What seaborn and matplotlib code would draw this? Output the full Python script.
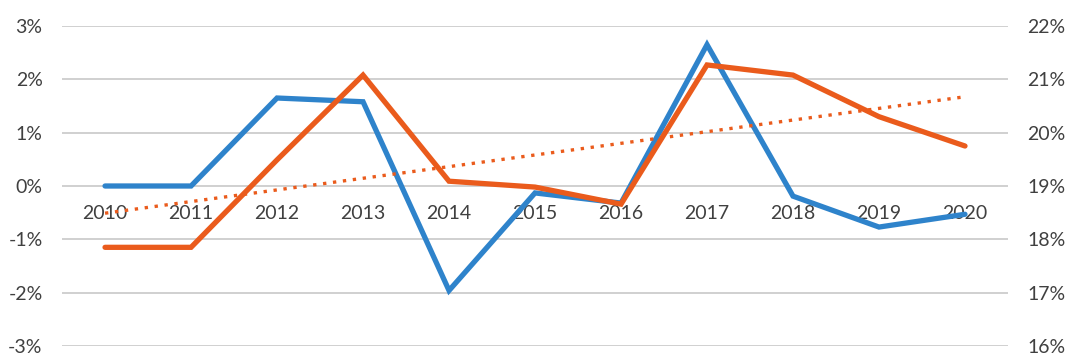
import seaborn as sns
import matplotlib.pyplot as plt
from matplotlib.ticker import FuncFormatter
import pandas as pd

years = [2010, 2011, 2012, 2013, 2014, 2015, 2016, 2017, 2018, 2019, 2020]
# left axis series (%)
blue_vals = [0.0, 0.0, 1.65, 1.58, -1.96, -0.13, -0.32, 2.65, -0.19, -0.77, -0.53]
# right axis series (%)
orange_vals = [17.85, 17.85, 19.49, 21.08, 19.09, 18.98, 18.66, 21.27, 21.08, 20.30, 19.75]

left_ticks = [-3, -2, -1, 0, 1, 2, 3]
right_ticks = [16, 17, 18, 19, 20, 21, 22]

blue = "#2E83CB"
orange = "#EA5B1C"

df = pd.DataFrame({"year": years, "blue": blue_vals, "orange": orange_vals})

sns.set_style("white")
plt.rcParams['font.family'] = ['Lato', 'DejaVu Sans']

fig = plt.figure(figsize=(10.79, 3.64), dpi=100)
ax = fig.add_axes([0.0575, 0.0495, 0.8767, 0.879])
ax2 = ax.twinx()

ax.set_ylim(-3, 3)
ax2.set_ylim(16, 22)
ax.set_xlim(2009.5, 2020.5)
ax.set_yticks(left_ticks)
ax2.set_yticks(right_ticks)
ax.yaxis.set_major_formatter(FuncFormatter(lambda v, p: f"{v:.0f}%"))
ax2.yaxis.set_major_formatter(FuncFormatter(lambda v, p: f"{v:.0f}%"))
ax.grid(axis='y', color="#C8C8C8", lw=1.2)
ax.set_axisbelow(True)

for a in (ax, ax2):
    for s in a.spines.values():
        s.set_visible(False)

# category labels sit just under the 0% line
ax.spines['bottom'].set_position(('data', 0))
ax.set_xticks(years)
ax.set_xticklabels([str(y) for y in years])
ax.tick_params(axis='x', length=0, pad=14, labelsize=14, labelcolor="#404040")
ax.tick_params(axis='y', length=0, pad=14, labelsize=14, labelcolor="#404040")
ax2.tick_params(axis='y', length=0, pad=14, labelsize=14, labelcolor="#404040")

sns.lineplot(data=df, x="year", y="blue", ax=ax, color=blue, lw=3.8,
             solid_capstyle='round', solid_joinstyle='miter')
sns.lineplot(data=df, x="year", y="orange", ax=ax2, color=orange, lw=3.8,
             solid_capstyle='round', solid_joinstyle='miter')
sns.regplot(data=df, x="year", y="orange", ax=ax2, scatter=False, ci=None,
            line_kws={"color": orange, "lw": 2.4, "ls": (0, (1, 2.0))})

ax.set_xlabel("")
ax.set_ylabel("")
ax2.set_xlabel("")
ax2.set_ylabel("")
ax.set_xlim(2009.5, 2020.5)

fig.savefig("out.png", dpi=100)
